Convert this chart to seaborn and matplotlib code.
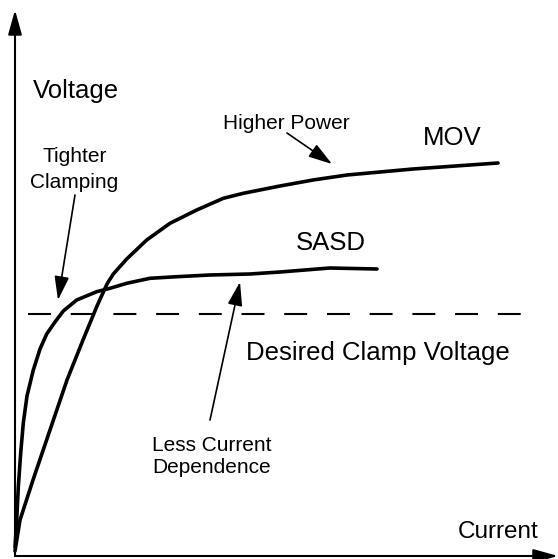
import matplotlib
matplotlib.use('Agg')
import matplotlib.pyplot as plt
import seaborn as sns
import pandas as pd

# curve values (current, voltage) in arbitrary units, origin at the axes corner
mov_current = [0, 5, 18, 35, 52, 68, 82, 92, 98.3, 111.7, 131.7, 155, 181.7, 208.3, 228.3,
               265, 298, 332, 398, 483]
mov_voltage = [5, 36, 76, 126, 176, 216, 250, 272, 282, 297, 316, 332.7, 346, 357.7, 362.7,
               370, 376, 381, 387, 393]

sasd_current = [0, 1.7, 3.3, 5.7, 8.3, 12, 18.3, 25, 31.7, 40, 48.3, 61.7, 81.7, 95, 111.7,
                135, 161.7, 195, 235, 265, 315, 362]
sasd_voltage = [9, 36, 69, 103, 133, 160, 186, 207, 222, 234, 245, 256, 264.3, 267.7, 272.7,
                277.7, 279.3, 281, 282, 284, 288, 287]

clamp_voltage = 242
clamp_range = [13, 515]

df = pd.concat([
    pd.DataFrame({'current': mov_current, 'voltage': mov_voltage, 'device': 'MOV'}),
    pd.DataFrame({'current': sasd_current, 'voltage': sasd_voltage, 'device': 'SASD'}),
])

sns.set_style('white')
plt.rcParams['font.family'] = ['Liberation Sans', 'DejaVu Sans']
plt.rcParams['text.color'] = 'black'

fig = plt.figure(figsize=(5.58, 5.59), dpi=100)
ax = fig.add_axes([0, 0, 1, 1])

sns.lineplot(data=df, x='current', y='voltage', units='device', estimator=None,
             sort=False, color='black', lw=2.6, ax=ax, legend=False,
             solid_joinstyle='round')

ax.plot(clamp_range, [clamp_voltage, clamp_voltage], color='black', lw=1.5,
        dashes=(11, 9.5))

# axes with arrow heads
axis_arrow = dict(arrowstyle='-|>,head_length=1.5,head_width=0.42', color='black',
                  lw=1.5, mutation_scale=10, shrinkA=0, shrinkB=0)
ax.annotate('', xy=(0, 546), xytext=(0, 0), arrowprops=axis_arrow)
ax.annotate('', xy=(543, 0), xytext=(0, 0), arrowprops=axis_arrow)

note_arrow = dict(arrowstyle='-|>,head_length=1.45,head_width=0.45', color='black',
                  lw=1.2, mutation_scale=10, shrinkA=0, shrinkB=0)
ax.annotate('', xy=(317, 392), xytext=(272, 423), arrowprops=note_arrow)
ax.annotate('', xy=(43, 256), xytext=(60, 361), arrowprops=note_arrow)
ax.annotate('', xy=(225, 274), xytext=(195, 136), arrowprops=note_arrow)

big = 18.5
small = 15
ax.text(17.7, 457.7, 'Voltage', fontsize=big, va='baseline')
ax.text(443, 18, 'Current', fontsize=17.5, va='baseline')
ax.text(408, 411, 'MOV', fontsize=big, va='baseline')
ax.text(281, 306, 'SASD', fontsize=big, va='baseline')
ax.text(231, 196, 'Desired Clamp Voltage', fontsize=big, va='baseline')
ax.text(207.7, 427, 'Higher Power', fontsize=small, va='baseline')
ax.text(59.5, 393.7, 'Tighter', fontsize=small, ha='center', va='baseline')
ax.text(59.5, 368, 'Clamping', fontsize=small, ha='center', va='baseline')
ax.text(197, 105, 'Less Current', fontsize=small, ha='center', va='baseline')
ax.text(197, 82.7, 'Dependence', fontsize=small, ha='center', va='baseline')

ax.set_xlim(-15, 543)
ax.set_ylim(-3, 556)
ax.set_axis_off()

fig.savefig('out.png', dpi=100)
